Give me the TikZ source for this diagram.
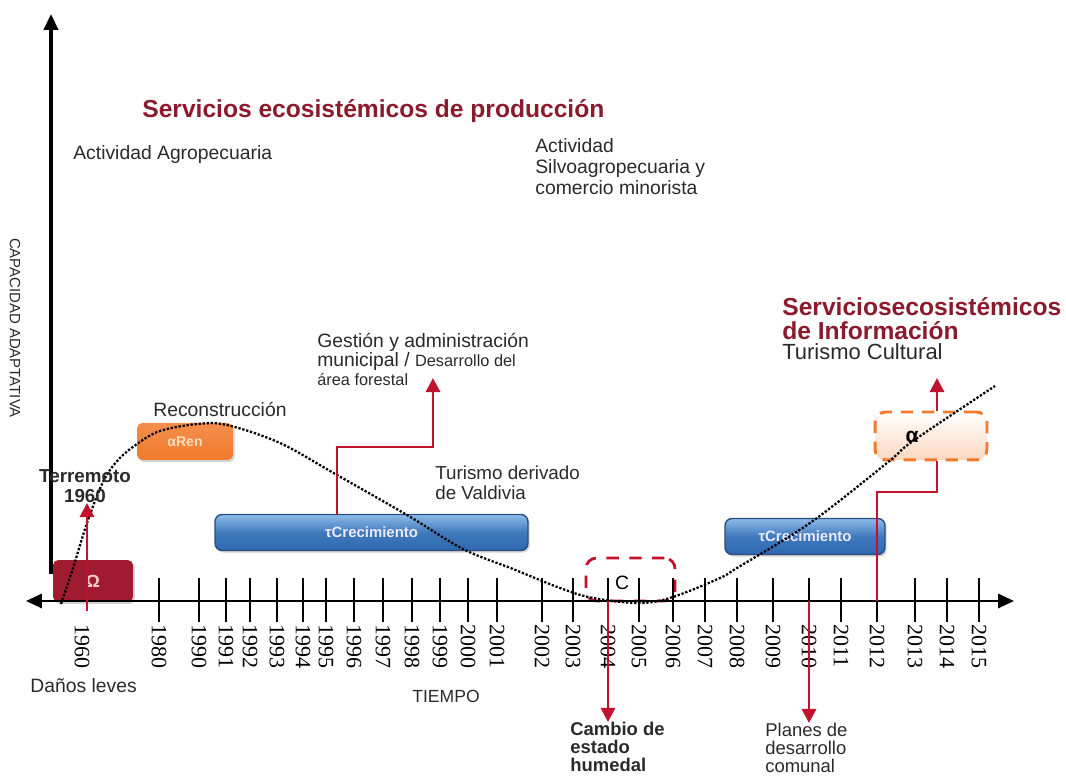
\documentclass[tikz,border=0pt]{standalone}
\usepackage{fontspec}
\setmainfont{Liberation Sans}
\newfontfamily\yearfont{Liberation Serif}
\usetikzlibrary{arrows.meta,shadows}
\newcommand\fsz[2]{\fontsize{#1}{#2}\selectfont}
\definecolor{titlered}{HTML}{8A1A2C}
\definecolor{linered}{HTML}{C3122E}
\definecolor{omegared}{HTML}{A01B2F}
\definecolor{renorange}{HTML}{F27A2C}
\definecolor{bluetop}{HTML}{8DBBEA}
\definecolor{bluebot}{HTML}{2D68B0}
\definecolor{blueedge}{HTML}{2B4E7E}
\definecolor{textgray}{HTML}{2A2A2A}
\tikzset{
  axisline/.style={line width=1.5pt, black},
  tickline/.style={line width=1.3pt, black},
  yearlabel/.style={rotate=-90, anchor=west, inner sep=0pt, font=\yearfont\fsz{12.5}{14}},
  redline/.style={line width=1.7pt, linered},
  redtip/.style={-{Triangle[length=8pt,width=8pt]}},
  plaintext/.style={inner sep=0pt, text=textgray, font=\fsz{11}{11}},
  boldtitle/.style={inner sep=0pt, text=titlered, font=\bfseries\fsz{14}{13.5}},
  boxshadow/.style={drop shadow={shadow xshift=1pt, shadow yshift=-1.2pt, opacity=0.35, fill=gray}},
  omegabox/.style={boxshadow, fill=omegared, rounded corners=3pt, inner sep=0pt,
    minimum width=1.6cm, minimum height=0.84cm, text=red!20, font=\bfseries\fsz{10}{10}},
  renbox/.style={boxshadow, top color=renorange!85, bottom color=renorange, rounded corners=3pt,
    inner sep=0pt, minimum width=1.92cm, minimum height=0.74cm, text=orange!25, font=\bfseries\fsz{8}{8}},
  crecbox/.style={boxshadow, top color=bluetop, bottom color=bluebot, middle color=bluebot!80!bluetop,
    draw=blueedge, line width=0.8pt, rounded corners=4pt, inner sep=0pt,
    minimum height=0.72cm, text=blue!8, font=\bfseries\fsz{8.5}{8.5}},
  cbox/.style={draw=linered, dashed, dash pattern=on 7pt off 6pt, line width=1.6pt, rounded corners=6pt,
    inner sep=0pt, minimum width=1.78cm, minimum height=0.86cm, font=\fsz{11}{11}},
  alphabox/.style={draw=renorange, dash pattern=on 7pt off 5pt, line width=1.7pt, rounded corners=6pt,
    top color=white, bottom color=renorange!30, inner sep=0pt,
    minimum width=2.24cm, minimum height=0.96cm, font=\bfseries\fsz{11}{11}},
  curveline/.style={line width=1.3pt, densely dotted, black}
}
\begin{document}
\begin{tikzpicture}[x=0.02cm, y=-0.02cm]
\useasboundingbox (0,0) rectangle (1066,776);

% boxes on the time line
\node[omegabox] (omega) at (93,581) {Ω};
\node[renbox] (ren) at (185,441.5) {αRen};
\node[crecbox, minimum width=6.26cm] (crec1) at (371.5,532.5) {τCrecimiento};
\node[crecbox, minimum width=3.2cm] (crec2) at (805,536.5) {τCrecimiento};
\node[cbox] (cbox) at (630.5,579.5) {};
\node[font=\fsz{11}{11}, inner sep=0pt] (clab) at (622,583) {C};
\node[alphabox] (alpha) at (931,436) {};
\node[font=\bfseries\fsz{12}{12}, inner sep=0pt] (alab) at (912,437) {α};

% axes
\coordinate (ytop) at (51,14);
\coordinate (ybot) at (51,574);
\draw[axisline, line width=2pt, -{Triangle[length=9pt,width=8pt]}] (ybot) -- (ytop);
\coordinate (xleft) at (26,601);
\coordinate (xright) at (1014,601);
\draw[axisline, {Triangle[length=9pt,width=8pt]}-{Triangle[length=9pt,width=8pt]}] (xleft) -- (xright);

% ticks and years
\foreach \yr/\xx in {1980/159,1990/199,1991/226,1992/250,1993/277,1994/303,1995/326,
  1996/354,1997/383,1998/412,1999/440,2000/468,2001/497,2002/542,2003/573,2004/608,
  2005/639,2006/673,2007/705,2008/737,2009/773,2010/809,2011/841,2012/877,2013/915,
  2014/947,2015/979}{
  \draw[tickline] (\xx,578) -- (\xx,622);
  \node[yearlabel] (yr\yr) at (\xx,624) {\yr};
}
\node[yearlabel] (yr1960) at (82,624) {1960};

% adaptive capacity curve
\draw[curveline] plot[smooth, tension=0.55] coordinates {
  (61,604) (74,565) (87,523) (103,482) (118,460) (137,444) (160,431) (197,424)
  (227,425) (280,443) (337,475) (407,515) (463,549) (513,569) (560,588) (593,598)
  (640,603) (673,597) (720,578) (737,568) (810,523) (887,463) (913,441) (995,386)};

% texts
\node[boldtitle, anchor=west] (prodtitle) at (142,111) {Servicios ecosistémicos de producción};
\node[plaintext, anchor=west] (agro) at (73,155) {Actividad Agropecuaria};
\node[plaintext, anchor=north west, align=left, font=\fsz{11}{12}] (silvo) at (535,138)
  {Actividad\\Silvoagropecuaria y\\comercio minorista};
\node[inner sep=0pt, rotate=-90, text=textgray, font=\fsz{8.5}{8.5}] (ylab) at (15,328) {CAPACIDAD ADAPTATIVA};
\node[plaintext, anchor=west] (recon) at (153,409) {Reconstrucción};
\node[inner sep=0pt, align=center, font=\bfseries\fsz{10.7}{11.5}, text=textgray] (terr) at (85,486) {Terremoto\\1960};
\node[plaintext, anchor=north west, align=left, font=\fsz{11}{10.8}] (gest) at (317,333)
  {Gestión y administración\\municipal / {\fsz{9.3}{10.8}Desarrollo del}\\{\fsz{9.3}{10.8}área forestal}};
\node[plaintext, anchor=north west, align=left, font=\fsz{10.7}{11}] (turv) at (435,466)
  {Turismo derivado\\de Valdivia};
\node[boldtitle, anchor=north west, align=left] (infotitle) at (782,297)
  {Serviciosecosistémicos\\de Información};
\node[plaintext, anchor=west, font=\fsz{12.5}{12.5}] (turc) at (782,352) {Turismo Cultural};
\node[plaintext, anchor=west] (danos) at (30,686) {Daños leves};
\node[plaintext, anchor=west, font=\fsz{10}{10}] (tiempo) at (412,696) {TIEMPO};
\node[plaintext, anchor=north west, align=left, font=\bfseries\fsz{10.5}{10.3}] (cambio) at (570,722)
  {Cambio de\\estado\\humedal};
\node[plaintext, anchor=north west, align=left, font=\fsz{10.5}{10.3}] (planes) at (765,723)
  {Planes de\\desarrollo\\comunal};

% red connectors
\coordinate (q0) at (87,611);
\draw[redline, redtip] (q0) -- (q0 |- terr.south);
\coordinate (g1) at (337,515);
\coordinate (g2) at (433,447);
\coordinate (g3) at (433,378);
\draw[redline, redtip] (g1) |- (g2) -- (g3);
\coordinate (c0) at (608,601);
\draw[redline, redtip] (c0) -- (c0 |- cambio.north);
\coordinate (p0) at (809,601);
\draw[redline, redtip] (p0) -- (p0 |- planes.north);
\coordinate (a0) at (877,601);
\coordinate (a1) at (937,492);
\draw[redline] (a0) |- (a1) -- (a1 |- alpha.south);
\coordinate (a2) at (937,378);
\draw[redline, redtip] (a2 |- alpha.north) -- (a2);
\end{tikzpicture}
\end{document}
